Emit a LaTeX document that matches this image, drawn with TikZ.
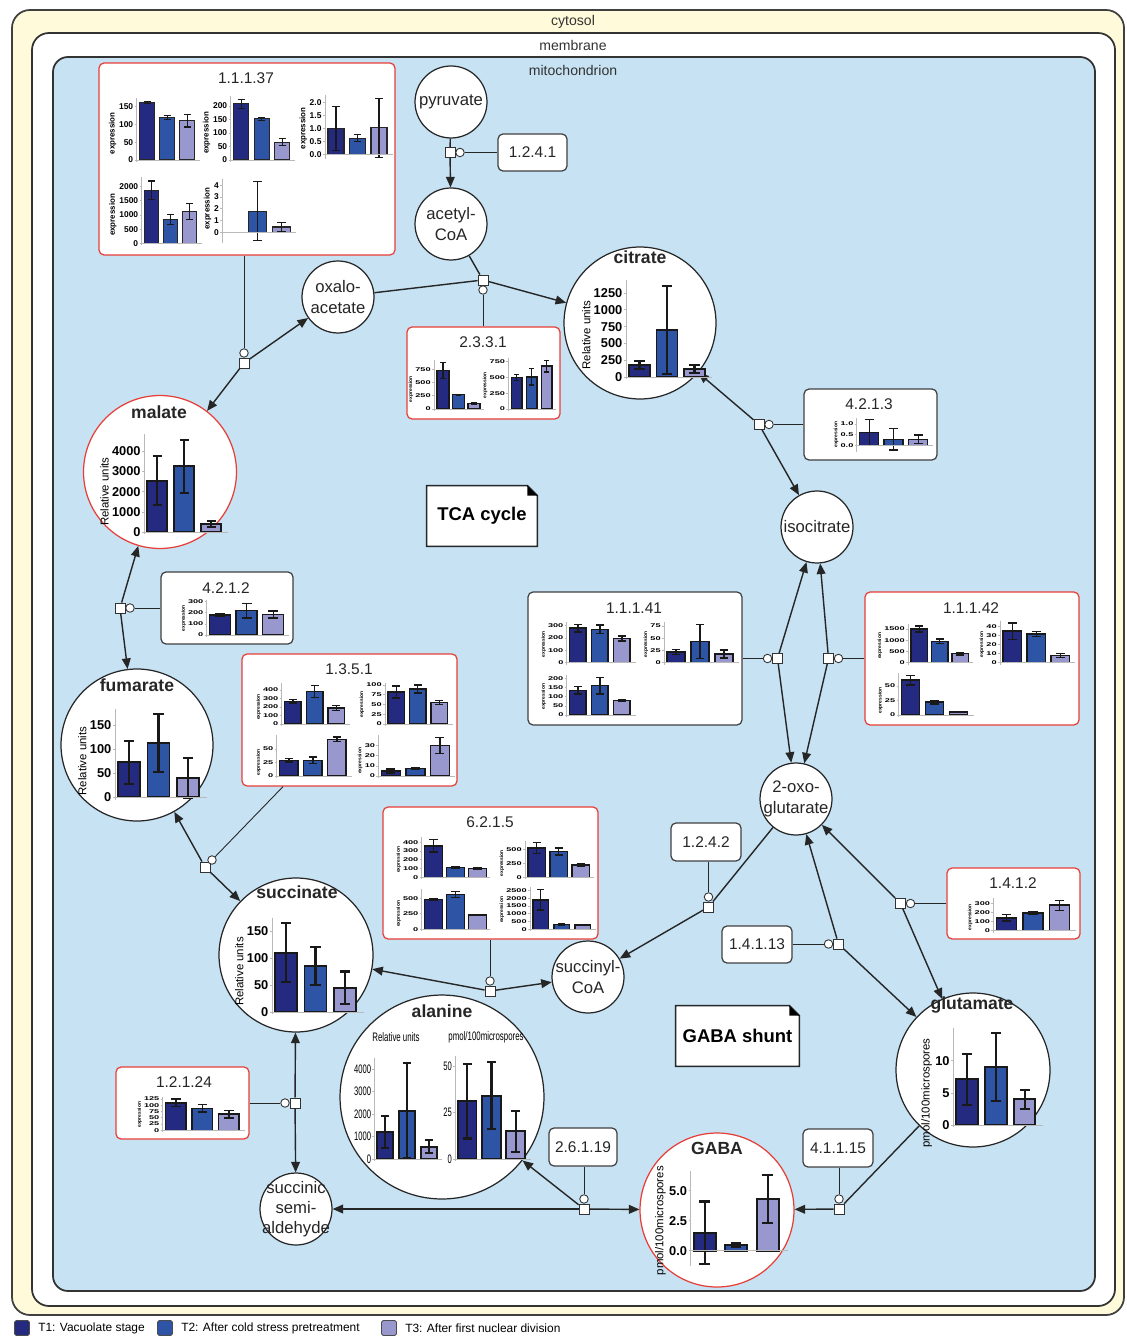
\documentclass[tikz,border=0pt]{standalone}
\usepackage{fontspec}
\setmainfont{Liberation Sans}
\usetikzlibrary{arrows.meta,positioning}

\definecolor{t1}{RGB}{36,42,128}
\definecolor{t2}{RGB}{46,84,166}
\definecolor{t3}{RGB}{152,152,206}
\definecolor{mitofill}{RGB}{198,226,243}
\definecolor{cytofill}{RGB}{255,251,218}
\definecolor{redline}{RGB}{232,62,56}
\definecolor{axisgray}{RGB}{185,185,185}

\tikzset{
  cytosol/.style={draw=black!75, line width=1pt, fill=cytofill, rounded corners=0.36cm},
  membrane/.style={draw=black!80, line width=1pt, fill=white, rounded corners=0.34cm},
  mito/.style={draw=black!80, line width=1pt, fill=mitofill, rounded corners=0.3cm},
  complbl/.style={font=\fontsize{8}{9}\selectfont, text=black!80, inner sep=0pt},
  met/.style={circle, draw=black!85, line width=0.7pt, fill=white, inner sep=0pt, minimum size=1.44cm},
  mettxt/.style={font=\fontsize{9.5}{11.5}\selectfont, align=center, inner sep=0pt, text=black!85},
  mettitle/.style={font=\fontsize{10}{12}\selectfont\bfseries, inner sep=0pt, text=black!85},
  enz/.style={rectangle, rounded corners=0.1cm, draw=black!75, line width=0.7pt, fill=white, inner sep=0pt},
  enzred/.style={enz, draw=redline},
  enztxt/.style={font=\fontsize{8.8}{10}\selectfont, inner sep=0pt, text=black!85},
  rxn/.style={rectangle, draw=black!80, fill=white, line width=0.5pt, minimum size=0.2cm, inner sep=0pt},
  modf/.style={circle, draw=black!80, fill=white, line width=0.5pt, minimum size=0.17cm, inner sep=0pt},
  rline/.style={line width=0.8pt, draw=black!85},
  rarrow/.style={rline, -{Triangle[length=6pt,width=5pt]}},
  catline/.style={line width=0.5pt, draw=black!85},
  notetxt/.style={font=\fontsize{10.5}{12}\selectfont\bfseries, fill=white, inner sep=0pt},
  notebox/.style={draw=black!85, line width=0.9pt},
  legsq/.style={rectangle, rounded corners=1pt, draw=black!70, line width=0.5pt, minimum size=0.3cm, inner sep=0pt},
  legtxt/.style={font=\fontsize{6.8}{8}\selectfont, inner sep=0pt},
  alahead/.style={font=\fontsize{7}{8}\selectfont, xscale=0.64, inner sep=0pt},
  chart axis/.style={draw=axisgray, line width=0.4pt},
  big bar/.style={draw=black!90, line width=1.1pt},
  big err/.style={draw=black!90, line width=1.2pt},
  big tick/.style={font=\fontsize{7.3}{8}\selectfont\bfseries, inner sep=0.5pt},
  big ylab/.style={font=\fontsize{6.5}{7}\selectfont, rotate=90, anchor=south, inner sep=1pt},
  ala bar/.style={big bar},
  ala err/.style={big err},
  ala tick/.style={font=\fontsize{7}{8}\selectfont, xscale=0.62, inner sep=0.5pt},
  ala ylab/.style={big ylab},
  mid bar/.style={draw=black!85, line width=0.6pt},
  mid err/.style={draw=black!90, line width=0.6pt},
  mid tick/.style={font=\fontsize{4.8}{5}\selectfont\bfseries, inner sep=0.4pt},
  mid ylab/.style={font=\fontsize{4.5}{5}\selectfont\bfseries, rotate=90, anchor=south, inner sep=0.8pt},
  small bar/.style={draw=black!90, line width=0.85pt},
  small err/.style={draw=black!90, line width=0.8pt},
  small tick/.style={font=\fontsize{5.2}{5}\selectfont\bfseries, yscale=0.6, inner sep=0.3pt},
  small ylab/.style={font=\fontsize{2.8}{3}\selectfont\bfseries, rotate=90, anchor=south, inner sep=0.6pt}
}

% #1 style set, #2 axis x, #3 zero y, #4 px per unit, #5 bar width, #6 bar pitch,
% #7 bars value/error, #8 ticks, #9 y label
\newcommand{\minichart}[9]{%
  \xdef\chmax{0}\xdef\chmin{0}%
  \foreach \v/\e [count=\i] in {#7}{%
    \pgfmathsetmacro\bl{#2+3+(\i-1)*#6}%
    \pgfmathsetmacro\br{\bl+#5}%
    \pgfmathsetmacro\bt{#3-#4*\v}%
    \pgfmathsetmacro\bc{\bl+#5/2}%
    \pgfmathsetmacro\cw{#5*0.24}%
    \pgfmathsetmacro\eh{#3-#4*(\v+\e)}%
    \pgfmathsetmacro\el{#3-#4*(\v-\e)}%
    \pgfmathsetmacro\cl{\bc-\cw}%
    \pgfmathsetmacro\cr{\bc+\cw}%
    \draw[#1 bar, fill=t\i] (\bl,#3) rectangle (\br,\bt);
    \draw[#1 err] (\bc,\el) -- (\bc,\eh) (\cl,\el) -- (\cr,\el) (\cl,\eh) -- (\cr,\eh);
    \pgfmathsetmacro\tmp{max(\chmax,\v+\e)}\xdef\chmax{\tmp}%
    \pgfmathsetmacro\tmp{min(\chmin,\v-\e)}\xdef\chmin{\tmp}%
  }%
  \foreach \t in {#8}{%
    \pgfmathsetmacro\ty{#3-#4*\t}%
    \draw[chart axis] (#2-2,\ty) -- (#2,\ty);
    \node[#1 tick, anchor=east] (tk) at (#2-2.5,\ty) {\t};
    \xdef\chtop{\t}%
  }%
  \pgfmathsetmacro\atop{#3-#4*max(\chmax,\chtop)*1.06}%
  \pgfmathsetmacro\abot{#3-#4*\chmin+2}%
  \pgfmathsetmacro\aend{#2+3*#6+3}%
  \pgfmathsetmacro\amid{#3-#4*\chtop/2}%
  \draw[chart axis] (#2,\atop) -- (#2,\abot) (#2,#3) -- (\aend,#3);
  \coordinate (chmid) at (#2,\amid);
  \node[#1 ylab] (yl) at (tk.west |- chmid) {#9};
}

\begin{document}
\begin{tikzpicture}[x=0.02cm,y=-0.02cm]
\useasboundingbox (0,0) rectangle (1126,1337);

% compartments
\draw[cytosol] (12,10) rectangle (1124,1315);
\draw[membrane] (32,33) rectangle (1115,1306);
\draw[mito] (53,57) rectangle (1095,1291);
\node[complbl] (cyt) at (573,22) {cytosol};
\node[complbl] (mem) at (573,45) {membrane};
\node[complbl] (mit) at (573,70) {mitochondrion};

% metabolites
\node[met, label={[mettxt]center:pyruvate}] (pyr) at (451,102) {};
\node[met, label={[mettxt]center:{acetyl-\\CoA}}] (acoa) at (451,224) {};
\node[met, label={[mettxt]center:{oxalo-\\acetate}}] (oaa) at (338,297) {};
\node[met, label={[mettxt]center:isocitrate}] (iso) at (817,527) {};
\node[met, label={[mettxt]center:{2-oxo-\\glutarate}}] (oxo) at (796,799) {};
\node[met, label={[mettxt]center:{succinyl-\\CoA}}] (scoa) at (588,977) {};
\node[met, label={[mettxt]center:{succinic\\semi-\\aldehyde}}] (ssa) at (296,1209) {};
\node[met, minimum size=3.04cm] (cit) at (640,323) {};
\node[met, draw=redline, minimum size=3.06cm] (mal) at (160,472) {};
\node[met, minimum size=3.04cm] (fum) at (137,745) {};
\node[met, minimum size=3.08cm] (succ) at (296,955) {};
\node[met, minimum size=4.08cm] (ala) at (442,1097) {};
\node[met, minimum size=3.08cm] (glu) at (973,1070) {};
\node[met, draw=redline, minimum size=3.08cm] (gaba) at (717,1210) {};
\node[mettitle] (citT) at (640,257) {citrate};
\node[mettitle] (malT) at (159,412) {malate};
\node[mettitle] (fumT) at (137,685) {fumarate};
\node[mettitle] (succT) at (297,892) {succinate};
\node[mettitle] (alaT) at (442,1011) {alanine};
\node[mettitle] (gluT) at (972,1005) {glutamate};
\node[mettitle] (gabaT) at (717,1148) {GABA};
\node[alahead] (alaru) at (396,1037) {Relative units};
\node[alahead] (alapm) at (486,1037) {pmol/100microspores};

% enzymes
\node[enzred, minimum width=5.92cm, minimum height=3.84cm] (e11137) at (247,159) {};
\node[enztxt] (e11137T) at (246,78) {1.1.1.37};
\node[enz, enztxt, minimum width=1.38cm, minimum height=0.74cm] (e1241) at (532.5,152.5) {1.2.4.1};
\node[enzred, minimum width=3.06cm, minimum height=1.84cm] (e2331) at (483.5,373) {};
\node[enztxt] (e2331T) at (483,342) {2.3.3.1};
\node[enz, minimum width=2.66cm, minimum height=1.42cm] (e4213) at (870.5,424.5) {};
\node[enztxt] (e4213T) at (869,404) {4.2.1.3};
\node[enz, minimum width=2.64cm, minimum height=1.44cm] (e4212) at (227,608) {};
\node[enztxt] (e4212T) at (226,588) {4.2.1.2};
\node[enz, minimum width=4.28cm, minimum height=2.66cm] (e11141) at (635,658.5) {};
\node[enztxt] (e11141T) at (634,608) {1.1.1.41};
\node[enzred, minimum width=4.28cm, minimum height=2.66cm] (e11142) at (972,658.5) {};
\node[enztxt] (e11142T) at (971,608) {1.1.1.42};
\node[enzred, minimum width=4.3cm, minimum height=2.64cm] (e1351) at (349.5,720) {};
\node[enztxt] (e1351T) at (349,669) {1.3.5.1};
\node[enzred, minimum width=4.3cm, minimum height=2.64cm] (e6215) at (490.5,873) {};
\node[enztxt] (e6215T) at (490,822) {6.2.1.5};
\node[enz, enztxt, minimum width=1.4cm, minimum height=0.76cm] (e1242) at (706,842) {1.2.4.2};
\node[enzred, minimum width=2.66cm, minimum height=1.42cm] (e1412) at (1013.5,903.5) {};
\node[enztxt] (e1412T) at (1013,883) {1.4.1.2};
\node[enz, enztxt, minimum width=1.4cm, minimum height=0.74cm] (e14113) at (757,944.5) {1.4.1.13};
\node[enzred, minimum width=2.66cm, minimum height=1.44cm] (e12124) at (182.5,1103) {};
\node[enztxt] (e12124T) at (184,1082) {1.2.1.24};
\node[enz, enztxt, minimum width=1.36cm, minimum height=0.76cm] (e26119) at (583,1147) {2.6.1.19};
\node[enz, enztxt, minimum width=1.4cm, minimum height=0.76cm] (e41115) at (838,1148) {4.1.1.15};

% notes
\node[notetxt, minimum width=2.2cm, minimum height=1.2cm] (tca) at (482,516) {TCA cycle};
\node[notetxt, minimum width=2.46cm, minimum height=1.2cm] (shunt) at (737.5,1036) {GABA shunt};
\foreach \n in {tca,shunt}{
  \fill[mitofill] ([xshift=-0.2cm]\n.north east) -- (\n.north east) -- ([yshift=-0.2cm]\n.north east) -- cycle;
  \draw[notebox] (\n.north west) -- ([xshift=-0.2cm]\n.north east) -- ([yshift=-0.2cm]\n.north east)
    -- (\n.south east) -- (\n.south west) -- cycle;
  \fill[black] ([xshift=-0.2cm]\n.north east) -- ([yshift=-0.2cm]\n.north east)
    -- ([xshift=-0.2cm,yshift=-0.2cm]\n.north east) -- cycle;
}

% reaction squares and modifier circles
\node[rxn] (rx1241) at (450,152.5) {};   \node[modf] (mo1241) at (460,152.5) {};
\node[rxn] (rx2331) at (483,280) {};     \node[modf] (mo2331) at (483,290) {};
\node[rxn] (rx11137) at (244,363) {};    \node[modf] (mo11137) at (244,353) {};
\node[rxn] (rx4213) at (759,424.5) {};   \node[modf] (mo4213) at (769,424.5) {};
\node[rxn] (rx11141) at (777.5,658.5) {};\node[modf] (mo11141) at (767.5,658.5) {};
\node[rxn] (rx11142) at (828.5,658.5) {};\node[modf] (mo11142) at (838.5,658.5) {};
\node[rxn] (rx1242) at (708.5,907) {};   \node[modf] (mo1242) at (708.5,897) {};
\node[rxn] (rx6215) at (490,991) {};     \node[modf] (mo6215) at (490,981) {};
\node[rxn] (rx1351) at (205,867) {};     \node[modf] (mo1351) at (212,860) {};
\node[rxn] (rx4212) at (120,608) {};     \node[modf] (mo4212) at (130,608) {};
\node[rxn] (rx14113) at (838.5,944) {};  \node[modf] (mo14113) at (828.5,944) {};
\node[rxn] (rx1412) at (900.5,903.5) {}; \node[modf] (mo1412) at (910.5,903.5) {};
\node[rxn] (rx41115) at (839,1209) {};   \node[modf] (mo41115) at (839,1199) {};
\node[rxn] (rx26119) at (584,1209) {};   \node[modf] (mo26119) at (584,1199) {};
\node[rxn] (rx12124) at (295,1103) {};   \node[modf] (mo12124) at (285,1103) {};

% conversions
\draw[rline] (pyr) -- (rx1241);
\draw[rarrow] (rx1241) -- (acoa);
\draw[rline] (oaa) -- (rx2331);
\draw[rline] (acoa) -- (rx2331);
\draw[rarrow] (rx2331) -- (cit);
\draw[rarrow] (rx11137) -- (oaa);
\draw[rarrow] (rx11137) -- (mal);
\draw[rarrow] (rx4213) -- (cit);
\draw[rarrow] (rx4213) -- (iso);
\draw[rarrow] (rx11141) -- (iso);
\draw[rarrow] (rx11141) -- (oxo);
\draw[rarrow] (rx11142) -- (iso);
\draw[rarrow] (rx11142) -- (oxo);
\draw[rline] (oxo) -- (rx1242);
\draw[rarrow] (rx1242) -- (scoa);
\draw[rarrow] (rx6215) -- (succ);
\draw[rarrow] (rx6215) -- (scoa);
\draw[rarrow] (rx1351) -- (fum);
\draw[rarrow] (rx1351) -- (succ);
\draw[rarrow] (rx4212) -- (mal);
\draw[rarrow] (rx4212) -- (fum);
\draw[rarrow] (rx14113) -- (oxo);
\draw[rarrow] (rx14113) -- (glu);
\draw[rarrow] (rx1412) -- (oxo);
\draw[rarrow] (rx1412) -- (glu);
\draw[rline] (glu) -- (rx41115);
\draw[rarrow] (rx41115) -- (gaba);
\draw[rarrow] (rx26119) -- (gaba);
\draw[rarrow] (rx26119) -- (ssa);
\draw[rarrow] (rx26119) -- (ala);
\draw[rarrow] (rx12124) -- (succ);
\draw[rarrow] (rx12124) -- (ssa);

% catalysis links
\draw[catline] (mo1241) -- (mo1241 -| e1241.west);
\draw[catline] (mo2331) -- (mo2331 |- e2331.north);
\draw[catline] (mo11137) -- (mo11137 |- e11137.south);
\draw[catline] (mo4213) -- (mo4213 -| e4213.west);
\draw[catline] (mo11141) -- (mo11141 -| e11141.east);
\draw[catline] (mo11142) -- (mo11142 -| e11142.west);
\draw[catline] (mo1242) -- (mo1242 |- e1242.south);
\draw[catline] (mo6215) -- (mo6215 |- e6215.south);
\draw[catline] (mo1351) -- ([xshift=-1.33cm]e1351.south);
\draw[catline] (mo4212) -- (mo4212 -| e4212.west);
\draw[catline] (mo14113) -- (mo14113 -| e14113.east);
\draw[catline] (mo1412) -- (mo1412 -| e1412.west);
\draw[catline] (mo41115) -- (mo41115 |- e41115.south);
\draw[catline] (mo26119) -- (mo26119 |- e26119.south);
\draw[catline] (mo12124) -- (mo12124 -| e12124.east);

% enzyme charts
\minichart{mid}{136.7}{160}{0.355}{15}{20}{162/2,120/5,110/17}{0,50,100,150}{expression}
\minichart{mid}{230.7}{160}{0.27}{15}{20.5}{208/17,153/5,65/13}{0,50,100,150,200}{expression}
\minichart{mid}{325}{154.3}{25.8}{16}{21.5}{1.0/0.85,0.63/0.15,1.03/1.15}{0.0,0.5,1.0,1.5,2.0}{expression}
\minichart{mid}{141.7}{243.3}{0.0283}{14}{19}{1870/330,830/180,1120/290}{0,500,1000,1500,2000}{expression}
\minichart{mid}{222.3}{232.3}{11.75}{18}{23.5}{0/0,1.8/2.5,0.45/0.4}{0,1,2,3,4}{expression}
\minichart{small}{434}{409}{0.053}{12}{15.5}{730/150,270/5,100/15}{0,250,500,750}{expression}
\minichart{small}{508.3}{409}{0.063}{10.5}{15}{500/45,510/130,680/90}{0,250,500,750}{expression}
\minichart{small}{856.7}{445.3}{21.3}{19}{24.5}{0.6/0.6,0.28/0.5,0.28/0.2}{0.0,0.5,1.0}{expression}
\minichart{small}{206.7}{635}{0.111}{21}{26.5}{180/15,220/65,185/30}{0,100,200,300}{expression}
\minichart{small}{566.7}{662.7}{0.1233}{16.5}{22}{280/30,270/35,195/20}{0,100,200,300}{expression}
\minichart{small}{664}{662.7}{0.489}{18}{24}{22/5,43/35,18/8}{0,25,50,75}{expression}
\minichart{small}{566.7}{715}{0.183}{16.5}{22}{135/20,160/45,80/5}{0,50,100,150,200}{expression}
\minichart{small}{908}{662.7}{0.0225}{16.5}{20.5}{1500/130,950/100,400/50}{0,500,1000,1500}{expression}
\minichart{small}{1000}{662.7}{0.9}{18.5}{24}{35/9,32/3,8/2}{0,10,20,30,40}{expression}
\minichart{small}{898.5}{715}{0.58}{18}{24}{60/8,22/3,5/1}{0,25,50}{expression}
\minichart{small}{281.7}{724}{0.085}{16.5}{21.7}{265/20,385/70,190/30}{0,100,200,300,400}{expression}
\minichart{small}{385}{724}{0.39}{16.5}{21.5}{82/15,90/10,55/5}{0,25,50,75,100}{expression}
\minichart{small}{276.7}{776}{0.54}{18.5}{24}{29/3,29/6,68/4}{0,25,50}{expression}
\minichart{small}{378.3}{776}{1.01}{19}{24.5}{5/2,7.5/1,30/8}{0,10,20,30}{expression}
\minichart{small}{421.7}{877.3}{0.0875}{18}{21.8}{360/70,110/10,100/10}{0,100,200,300,400}{expression}
\minichart{small}{525}{877.3}{0.056}{17.5}{22}{520/100,460/60,220/30}{0,250,500}{expression}
\minichart{small}{421.7}{929.3}{0.062}{18}{21.8}{480/15,560/50,230/5}{0,250,500}{expression}
\minichart{small}{530}{929.3}{0.0155}{15.5}{21}{1900/650,300/70,280/40}{0,500,1000,1500,2000,2500}{expression}
\minichart{small}{993.3}{930.7}{0.091}{20}{26.5}{140/35,195/15,280/55}{0,100,200,300}{expression}
\minichart{small}{162.7}{1130.3}{0.25}{20.5}{26.5}{110/15,88/15,65/15}{0,25,50,75,100,125}{expression}

% metabolite charts
\minichart{big}{626}{377}{0.0672}{21}{27.5}{180/60,700/660,120/55}{0,250,500,750,1000,1250}{Relative units}
\minichart{big}{144.3}{532.3}{0.0203}{20}{27}{2550/1200,3250/1300,400/150}{0,1000,2000,3000,4000}{Relative units}
\minichart{big}{115}{797}{0.48}{22}{29.5}{72/45,112/60,40/42}{0,50,100,150}{Relative units}
\minichart{big}{272}{1012}{0.54}{22}{29.5}{110/55,85/35,45/30}{0,50,100,150}{Relative units}
\minichart{big}{953.3}{1125}{6.43}{21.5}{28.8}{7.1/4,9/5.3,4/1.5}{0,5,10}{pmol/100microspores}
\minichart{big}{690.7}{1250.7}{12}{22}{31.5}{1.5/2.6,0.5/0.15,4.3/2.0}{0.0,2.5,5.0}{pmol/100microspores}
\minichart{ala}{374.3}{1159}{0.0225}{16}{21.7}{1200/700,2150/2100,550/300}{0,1000,2000,3000,4000}{}
\minichart{ala}{455}{1159}{1.86}{18.5}{24.2}{31/20,34/18,15/11}{0,25,50}{}

% legend
\node[legsq, fill=t1] (lg1) at (22,1328) {};
\node[legtxt, right=0.16cm of lg1] (lt1) {T1: Vacuolate stage};
\node[legsq, fill=t2] (lg2) at (165,1328) {};
\node[legtxt, right=0.16cm of lg2] (lt2) {T2: After cold stress pretreatment};
\node[legsq, fill=t3] (lg3) at (389,1328) {};
\node[legtxt, right=0.16cm of lg3] (lt3) {T3: After first nuclear division};
\end{tikzpicture}
\end{document}
